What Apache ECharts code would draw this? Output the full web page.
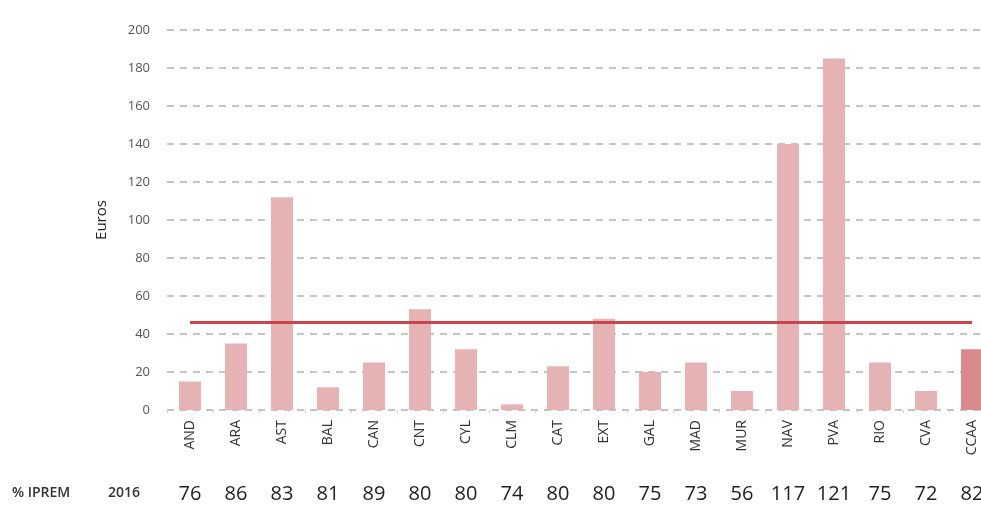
<!DOCTYPE html>
<html>
<head>
<meta charset="utf-8">
<script src="https://cdn.jsdelivr.net/npm/echarts@6/dist/echarts.min.js"></script>
<style>
  html, body { margin: 0; padding: 0; background: #fff; overflow: hidden; }
  #content { width: 1000px; height: 507px; }
</style>
</head>
<body>
<div id="content"></div>
<script>
// regiones (CCAA) y gasto en euros
var regions = ['AND', 'ARA', 'AST', 'BAL', 'CAN', 'CNT', 'CYL', 'CLM', 'CAT', 'EXT',
               'GAL', 'MAD', 'MUR', 'NAV', 'PVA', 'RIO', 'CVA', 'CCAA'];
var euros = [15, 35, 112, 12, 25, 53, 32, 3, 23, 48, 20, 25, 10, 140, 185, 25, 10, 32];
var average = [46, 46, 46, 46, 46, 46, 46, 46, 46, 46, 46, 46, 46, 46, 46, 46, 46, 46];
var iprem = [76, 86, 83, 81, 89, 80, 80, 74, 80, 80, 75, 73, 56, 117, 121, 75, 72, 82];
var yTicks = [0, 20, 40, 60, 80, 100, 120, 140, 160, 180, 200];

var barColor = '#e5b3b3';
var totalColor = '#d98a8c';

// el grafico original esta recortado a la derecha: el div es mas ancho que la ventana
var chart = echarts.init(document.getElementById('content'));

var barData = [];
for (var i = 0; i < euros.length; i++) {
    barData.push({
        value: euros[i],
        itemStyle: { color: regions[i] == 'CCAA' ? totalColor : barColor }
    });
}

var option = {
    animation: false,
    grid: { left: 167, top: 30, width: 828, height: 380, containLabel: false },
    graphic: [{
        type: 'text', left: 12, top: 486,
        style: { text: '% IPREM', font: '600 14px "Open Sans", sans-serif', fill: '#333' }
    }, {
        type: 'text', left: 108, top: 486,
        style: { text: '2016', font: '600 14px "Open Sans", sans-serif', fill: '#333' }
    }],
    xAxis: [{
        type: 'category',
        data: regions,
        boundaryGap: true,
        axisLine: { show: false },
        axisTick: { show: true, length: 3, lineStyle: { color: '#d0d0d0' } },
        axisLabel: {
            rotate: 90, interval: 0, margin: 10,
            fontFamily: 'Open Sans', fontSize: 14, color: '#333'
        }
    }, {
        type: 'category',
        data: iprem,
        position: 'bottom',
        offset: 70,
        axisLine: { show: false },
        axisTick: { show: false },
        axisLabel: {
            interval: 0, margin: 4,
            fontFamily: 'Open Sans', fontSize: 20, color: '#222'
        }
    }],
    yAxis: {
        type: 'value',
        min: yTicks[0],
        max: yTicks[yTicks.length - 1],
        interval: 20,
        name: 'Euros',
        nameLocation: 'middle',
        nameGap: 58,
        nameTextStyle: { fontFamily: 'Open Sans', fontSize: 15, color: '#222' },
        axisLine: { show: false },
        axisTick: { show: false },
        axisLabel: { margin: 17, fontFamily: 'Open Sans', fontSize: 13, color: '#555' },
        splitLine: { lineStyle: { color: '#c4c4c4', width: 2, type: [7, 6] } }
    },
    series: [{
        type: 'bar',
        data: barData,
        barWidth: '48%'
    }, {
        type: 'line',
        data: average,
        symbol: 'none',
        z: 5,
        lineStyle: { color: '#c8464a', width: 3 }
    }]
};

chart.setOption(option);
</script>
</body>
</html>
